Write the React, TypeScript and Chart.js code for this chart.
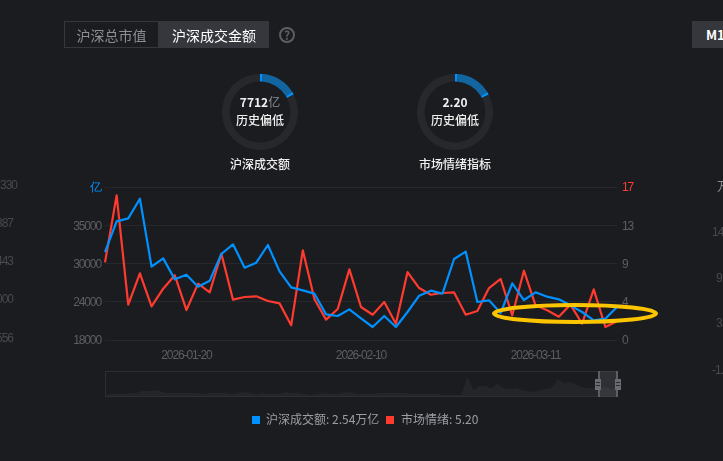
import React, { useEffect, useRef } from "react";
import { Chart, registerables } from "chart.js";

Chart.register(...registerables);

const dates = [
  "2026-01-09","2026-01-12","2026-01-13","2026-01-14","2026-01-15","2026-01-16","2026-01-19","2026-01-20","2026-01-21",
  "2026-01-22","2026-01-23","2026-01-26","2026-01-27","2026-01-28","2026-01-29","2026-01-30","2026-02-02","2026-02-03",
  "2026-02-04","2026-02-05","2026-02-06","2026-02-09","2026-02-10","2026-02-11","2026-02-12","2026-02-13","2026-02-24",
  "2026-02-25","2026-02-26","2026-02-27","2026-03-02","2026-03-03","2026-03-04","2026-03-05","2026-03-06","2026-03-09",
  "2026-03-10","2026-03-11","2026-03-12","2026-03-13","2026-03-16","2026-03-17","2026-03-18","2026-03-19","2026-03-20",
];
const shownDates = ["2026-01-20", "2026-02-10", "2026-03-11"];

const turnover = [
  31226,35836,36287,39243,29022,30275,27118,27820,26016,26918,30926,32379,28872,29623,32279,
  28321,25916,25465,24964,21858,21607,22609,21257,19954,21607,19954,22208,24663,25415,24964,
  30174,31277,23711,23962,22058,26517,24012,25164,24513,24112,23210,22208,20956,21206,22960,
];
const sentiment = [
  8.63,16.07,3.92,7.41,3.74,5.7,7.19,3.33,6.26,5.3,9.59,4.48,4.78,4.85,4.33,4.07,1.63,9.96,4.52,2.26,3.44,7.85,
  3.67,2.81,4.22,1.81,7.55,5.77,5.03,5.22,5.29,2.81,3.22,5.77,6.78,2.74,7.7,3.85,3.3,2.59,3.93,1.81,5.63,1.44,2.07,
];
const overview = [
  1,2,2,2,3,3,5,5,6,5,3,3,3,3,3,3,2,3,3,3,3,2,3,4,3,2,3,2,2,3,4,3,3,2,1,2,3,2,2,3,4,3,2,2,
  2,3,3,3,3,3,3,2,2,2,2,2,1,1,1,1,20,6,10,10,8,12,8,7,8,6,5,4,6,7,8,17,13,14,12,9,8,8,8,9,7,8,
];
const turnoverGauge = [1.2, 15, 1.2, 82.6];
const sentimentGauge = [1.2, 15, 1.2, 82.6];
const leftTicks = ["18000", "24000", "30000", "35000", "亿"];
const rightTicks = ["0", "4", "9", "13", "17"];
const narrow = "'Liberation Sans', sans-serif";
const ui = "'Noto Sans CJK SC', sans-serif";

function Gauge({ left, data }: { left: number; data: number[] }) {
  const ref = useRef<HTMLCanvasElement>(null);
  useEffect(() => {
    const chart = new Chart(ref.current!, {
      type: "doughnut",
      data: { datasets: [{ data, backgroundColor: ["#0091ff", "#12659f", "#0091ff", "#26282c"], borderWidth: 0 }] },
      options: {
        animation: false, responsive: false, cutout: "80%", radius: 38,
        layout: { padding: 0 },
        plugins: { legend: { display: false }, tooltip: { enabled: false } },
      },
    });
    return () => chart.destroy();
  }, []);
  return <canvas ref={ref} width={84} height={84} style={{ position: "absolute", left, top: 70, width: 84, height: 84 }} />;
}

function Overview() {
  const ref = useRef<HTMLCanvasElement>(null);
  useEffect(() => {
    const chart = new Chart(ref.current!, {
      type: "line",
      data: {
        labels: overview.map((_, i) => i),
        datasets: [{ data: overview, borderWidth: 0, pointRadius: 0, fill: true, backgroundColor: "#242529" }],
      },
      options: {
        animation: false, responsive: false,
        layout: { padding: 0 },
        plugins: { legend: { display: false }, tooltip: { enabled: false } },
        scales: {
          x: { display: false },
          y: { display: false, min: 0, max: 25 },
        },
      },
    });
    return () => chart.destroy();
  }, []);
  return <canvas ref={ref} width={512} height={25} style={{ position: "absolute", left: 106, top: 371, width: 512, height: 25 }} />;
}

function Text({ x, y, w, c, s = 12, b, children, align = "center" }: any) {
  return (
    <div style={{
      position: "absolute", left: x, top: y - 10, width: w, height: 20, lineHeight: "20px", fontSize: s, color: c,
      fontWeight: b ? 700 : 400, textAlign: align, whiteSpace: "nowrap", overflow: "hidden", fontFamily: ui,
    }}>{children}</div>
  );
}

const tightText = {
  id: "tightText",
  beforeDraw(chart: any) {
    chart.ctx.letterSpacing = "-1.1px";
  },
};

export default function App() {
  const ref = useRef<HTMLCanvasElement>(null);
  useEffect(() => {
    document.body.style.margin = "0";
    document.body.style.background = "#1b1c20";
    const chart = new Chart(ref.current!, {
      type: "line",
      plugins: [tightText],
      data: {
        labels: dates,
        datasets: [
          { data: turnover, yAxisID: "y", borderColor: "#0091ff", borderWidth: 2.2, pointRadius: 0, tension: 0, borderJoinStyle: "round" },
          { data: sentiment, yAxisID: "y1", borderColor: "#ff3b30", borderWidth: 2.2, pointRadius: 0, tension: 0, borderJoinStyle: "round" },
        ],
      },
      options: {
        animation: false, responsive: false,
        layout: { padding: { top: 187, left: 0, right: 0, bottom: 0 } },
        plugins: { legend: { display: false }, tooltip: { enabled: false } },
        scales: {
          x: {
            offset: false,
            grid: { display: false },
            border: { display: false },
            afterFit: (s: any) => { s.height = 121; },
            ticks: {
              autoSkip: false, maxRotation: 0, padding: 0,
              color: "#5c5e63", font: { family: narrow, size: 12 },
              callback: (_: any, i: number) => (shownDates.includes(dates[i]) ? dates[i] : null),
            },
          },
          y: {
            position: "left", min: 18000, max: 41000,
            grid: { color: "#26282c", lineWidth: 1, drawTicks: false },
            border: { display: false },
            afterBuildTicks: (s: any) => { s.ticks = [18000, 23750, 29500, 35250, 41000].map((value) => ({ value })); },
            afterFit: (s: any) => { s.width = 105; },
            ticks: {
              padding: 4, labelOffset: 1,
              color: (c: any) => (c.index === 4 ? "#0091ff" : "#5c5e63"),
              font: { family: narrow, size: 12 },
              callback: (_: any, i: number) => leftTicks[i],
            },
          },
          y1: {
            position: "right", min: 0, max: 17,
            grid: { display: false, drawTicks: false },
            border: { display: false },
            afterBuildTicks: (s: any) => { s.ticks = [0, 4.25, 8.5, 12.75, 17].map((value) => ({ value })); },
            afterFit: (s: any) => { s.width = 106; },
            ticks: {
              padding: 5, labelOffset: 1,
              color: (c: any) => (c.index === 4 ? "#ff3b30" : "#5c5e63"),
              font: { family: narrow, size: 12 },
              callback: (_: any, i: number) => rightTicks[i],
            },
          },
        },
      },
    });
    return () => chart.destroy();
  }, []);

  return (
    <div style={{ position: "relative", width: 723, height: 461, overflow: "hidden", background: "#1b1c20" }}>
      <canvas ref={ref} width={723} height={461} style={{ position: "absolute", left: 0, top: 0, width: 723, height: 461 }} />

      <div style={{ position: "absolute", left: 64, top: 21, width: 95, height: 27, boxSizing: "border-box", border: "1px solid #36373d" }} />
      <div style={{ position: "absolute", left: 159, top: 21, width: 110, height: 27, background: "#36373d" }} />
      <Text x={64} y={35} w={95} c="#8d8f94" s={14}>沪深总市值</Text>
      <Text x={159} y={35} w={110} c="#ffffff" s={14}>沪深成交金额</Text>
      <div style={{
        position: "absolute", left: 279, top: 27, width: 16, height: 16, boxSizing: "border-box", border: "2px solid #5c5e63",
        borderRadius: "50%", color: "#5c5e63", fontSize: 12, fontWeight: 700, lineHeight: "12px", textAlign: "center", fontFamily: ui,
      }}>?</div>
      <div style={{ position: "absolute", left: 692, top: 21, width: 40, height: 27, background: "#36373d" }} />
      <Text x={706} y={35} w={30} c="#ffffff" s={13} b align="left">M1</Text>

      <Gauge left={218} data={turnoverGauge} />
      <Gauge left={413} data={sentimentGauge} />
      <div style={{ position: "absolute", left: 200, top: 92, width: 120, height: 20, lineHeight: "20px", fontSize: 12, textAlign: "center", fontFamily: ui, fontWeight: 700, color: "#f0f0f0" }}>
        7712<span style={{ color: "#8d8f94", fontWeight: 400 }}>亿</span>
      </div>
      {[[200, "历史偏低", 120], [200, "沪深成交额", 164], [395, "2.20", 102], [395, "历史偏低", 120], [395, "市场情绪指标", 164]].map(([x, t, y]) => (
        <div key={`${x}${y}`} style={{ position: "absolute", left: x as number, top: (y as number) - 10, width: 120, lineHeight: "20px", fontSize: 12, textAlign: "center", fontFamily: ui, fontWeight: t === "2.20" ? 700 : 500, color: "#f0f0f0" }}>{t}</div>
      ))}

      {[["330", 185, 0], ["387", 223, -4], ["443", 261, -4], ["000", 299, -4], ["556", 338, -4]].map(([t, y, x]) => (
        <div key={t} style={{ position: "absolute", left: x as number, top: (y as number) - 8, fontFamily: narrow, fontSize: 12, letterSpacing: "-1px", lineHeight: "16px", color: "#48494e" }}>{t}</div>
      ))}
      {[["万", 717, 186, "#8d8f94"], ["14.", 712, 232, "#48494e"], ["9.", 716, 278, "#48494e"], ["3.", 716, 323, "#48494e"], ["-1.", 712, 370, "#48494e"]].map(([t, x, y, c]) => (
        <div key={t as string} style={{ position: "absolute", left: x as number, top: (y as number) - 8, fontFamily: t === "万" ? ui : narrow, fontSize: 12, letterSpacing: t === "万" ? 0 : "-1px", lineHeight: "16px", color: c as string }}>{t}</div>
      ))}

      <Overview />
      <div style={{ position: "absolute", left: 105, top: 371, width: 513, height: 26, boxSizing: "border-box", border: "1px solid #2d2e33" }} />
      <div style={{ position: "absolute", left: 598, top: 371, width: 20, height: 26, boxSizing: "border-box", borderLeft: "2px solid #5c5e63", borderRight: "2px solid #5c5e63", background: "rgba(120,122,130,0.22)" }} />
      {[595, 615].map((x) => (
        <div key={x} style={{ position: "absolute", left: x, top: 379, width: 6, height: 11, background: "#6a6c72" }}>
          <div style={{ margin: "3px 1px 0", height: 1, background: "#2a2b2f" }} />
          <div style={{ margin: "2px 1px 0", height: 1, background: "#2a2b2f" }} />
        </div>
      ))}

      <div style={{ position: "absolute", left: 252, top: 416, width: 8, height: 8, background: "#0091ff" }} />
      <Text x={266} y={419} w={120} c="#9c9ea3" s={12} align="left">沪深成交额: 2.54万亿</Text>
      <div style={{ position: "absolute", left: 386, top: 416, width: 8, height: 8, background: "#ff3b30" }} />
      <Text x={401} y={419} w={110} c="#9c9ea3" s={12} align="left">市场情绪: 5.20</Text>

      <svg width={723} height={461} style={{ position: "absolute", left: 0, top: 0, pointerEvents: "none" }}>
        <ellipse cx={575} cy={313.5} rx={81} ry={8.5} fill="none" stroke="#fdc500" strokeWidth={4} />
      </svg>
    </div>
  );
}
